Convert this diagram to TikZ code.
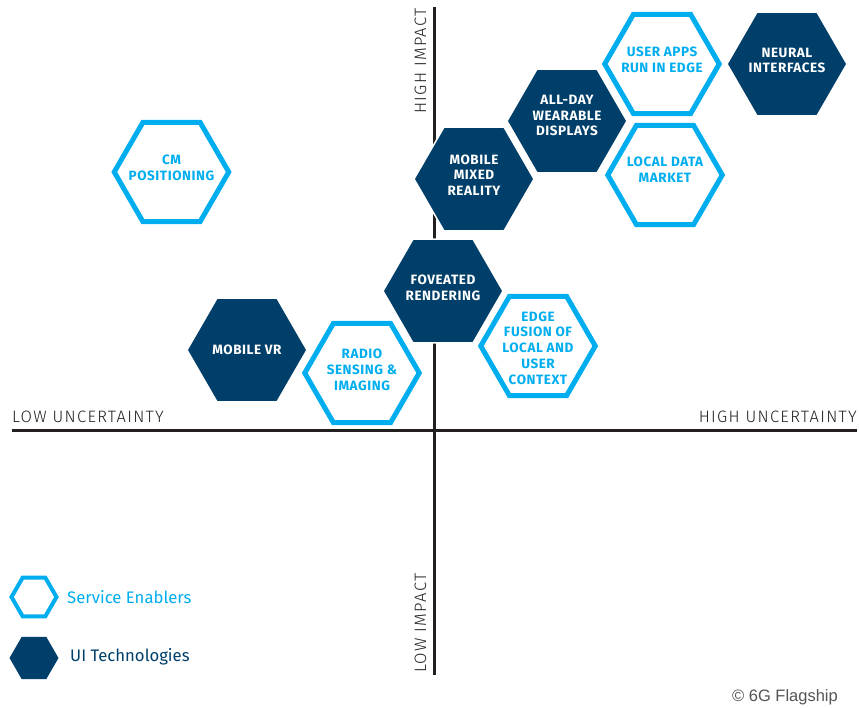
\documentclass[tikz,border=0pt]{standalone}
\usepackage{fontspec}
\setmainfont{Fira Sans}
\newfontfamily\lightfont{Fira Sans Light}[LetterSpace=8]
\newfontfamily\hexfont{Fira Sans}[LetterSpace=4]
\newfontfamily\crfont{Liberation Sans}
\usetikzlibrary{shapes.geometric}
\definecolor{navy}{HTML}{003F69}
\definecolor{sky}{HTML}{00AEEF}
\definecolor{axiscol}{HTML}{231F20}
\definecolor{crgray}{HTML}{555555}
\begin{document}
\begin{tikzpicture}[x=1pt,y=-1pt,
  hexfill/.style={regular polygon, regular polygon sides=6, minimum size=120pt, inner sep=0pt, fill=navy, draw=white, line width=1.5pt},
  hexline/.style={regular polygon, regular polygon sides=6, minimum size=114.5pt, inner sep=0pt, fill=white, draw=sky, line width=5pt},
  hextext/.style={font=\hexfont\fontsize{13.5}{15.7}\selectfont\bfseries, align=center, inner sep=0pt},
  wtext/.style={hextext, text=white},
  btext/.style={hextext, text=sky},
  axislabel/.style={font=\lightfont\fontsize{16.5}{19}\selectfont, text=axiscol, inner sep=0pt},
  axisline/.style={draw=axiscol, line width=3pt},
  legtext/.style={font=\fontsize{16.7}{19}\selectfont, inner sep=0pt, anchor=west}
]
\useasboundingbox (0,0) rectangle (859,708);

% axes
\coordinate (xl) at (12,430);
\coordinate (xr) at (857,430);
\coordinate (yt) at (434,7);
\coordinate (yb) at (434,675);
\draw[axisline] (xl) -- (xr);
\draw[axisline] (yt) -- (yb);

\node[axislabel, anchor=base west] (lowu) at (12,422) {LOW UNCERTAINTY};
\node[axislabel, anchor=base east] (highu) at (857,422) {HIGH UNCERTAINTY};
\node[axislabel, anchor=base, rotate=90] (highi) at (426,61) {HIGH IMPACT};
\node[axislabel, anchor=base, rotate=90] (lowi) at (426,623) {LOW IMPACT};

% hexagons
\node[hexline] (cm) at (171.5,172) {};
\node[btext] (cmt) at (171.5,168) {CM\\POSITIONING};

\node[hexfill] (mmr) at (474,179) {};
\node[wtext] (mmrt) at (474,175) {MOBILE\\MIXED\\REALITY};

\node[hexfill] (allday) at (567,121) {};
\node[wtext] (alldayt) at (567,115.5) {ALL-DAY\\WEARABLE\\DISPLAYS};

\node[hexline] (apps) at (662,64) {};
\node[btext] (appst) at (662,60) {USER APPS\\RUN IN EDGE};

\node[hexfill] (neural) at (787,64) {};
\node[wtext] (neuralt) at (787,60.5) {NEURAL\\INTERFACES};

\node[hexline] (market) at (665,175) {};
\node[btext] (markett) at (665,170) {LOCAL DATA\\MARKET};

\node[hexfill] (fov) at (443,291) {};
\node[wtext] (fovt) at (443,288) {FOVEATED\\RENDERING};

\node[hexfill] (mvr) at (247,350) {};
\node[wtext] (mvrt) at (247,350) {MOBILE VR};

\node[hexline] (radio) at (362,373) {};
\node[btext] (radiot) at (362,370) {RADIO\\SENSING \&\\IMAGING};

\node[hexline] (edge) at (538,346) {};
\node[btext] (edget) at (538,348) {EDGE\\FUSION OF\\LOCAL AND\\USER\\CONTEXT};

% legend
\node[hexline, minimum size=45pt, line width=4pt] (legse) at (34,597) {};
\node[legtext, text=sky] (legset) at (67,597) {Service Enablers};
\node[hexfill, minimum size=49pt, draw=none] (legui) at (34,658) {};
\node[legtext, text=navy] (leguit) at (70,657) {UI Technologies};

% copyright
\node[font=\crfont\fontsize{16.5}{19}\selectfont, text=crgray, inner sep=0pt, anchor=east] (cr) at (838,697) {\textcopyright\ 6G Flagship};
\end{tikzpicture}
\end{document}
